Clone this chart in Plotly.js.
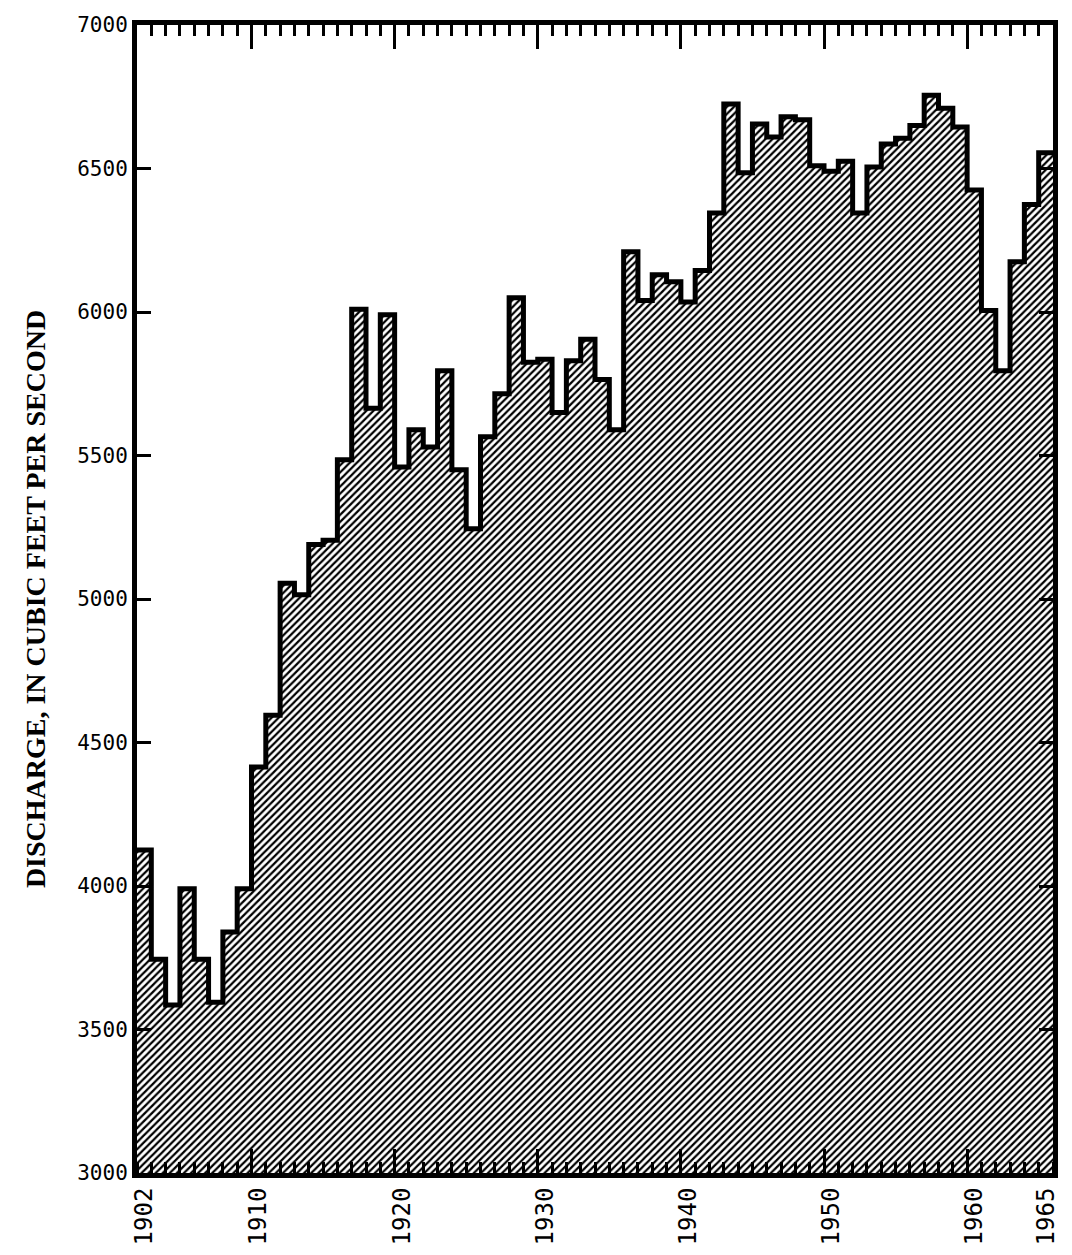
<!DOCTYPE html>
<html>
<head>
<meta charset="utf-8">
<script src="https://cdn.plot.ly/plotly-3.0.1.min.js"></script>
<style>html,body{margin:0;padding:0;background:#fff;}#chart{width:1072px;height:1255px;}</style>
</head>
<body>
<div id="chart"></div>
<script>
// Annual discharge, cubic feet per second
const years = [1902,1903,1904,1905,1906,1907,1908,1909,1910,1911,1912,1913,1914,1915,1916,1917,
  1918,1919,1920,1921,1922,1923,1924,1925,1926,1927,1928,1929,1930,1931,1932,1933,
  1934,1935,1936,1937,1938,1939,1940,1941,1942,1943,1944,1945,1946,1947,1948,1949,
  1950,1951,1952,1953,1954,1955,1956,1957,1958,1959,1960,1961,1962,1963,1964,1965];
const discharge = [4125,3745,3585,3990,3745,3595,3840,3990,4415,4595,5055,5015,5190,5205,5485,6010,
  5665,5990,5460,5590,5530,5795,5450,5245,5565,5715,6050,5825,5835,5650,5830,5905,
  5765,5590,6210,6040,6130,6105,6035,6145,6345,6725,6485,6655,6610,6680,6670,6510,
  6490,6525,6345,6505,6585,6605,6650,6755,6710,6645,6425,6005,5795,6175,6375,6555];
const xTickYears = [1902,1910,1920,1930,1940,1950,1960,1965];
const decadeYears = [1910,1920,1930,1940,1950,1960];
const yTicks = [3000,3500,4000,4500,5000,5500,6000,6500,7000];

// step outline: each year occupies [year-0.5, year+0.5]
const stepX = years.map(y => y - 0.5).concat([years[years.length-1] + 0.5]);
const stepY = discharge.concat([discharge[discharge.length-1]]);
const xRange = [years[0] - 0.5, years[years.length-1] + 0.5];

const traces = [{
  type: 'scatter', mode: 'lines', x: stepX, y: stepY,
  line: {shape: 'hv', color: '#000', width: 5},
  fill: 'tozeroy', fillcolor: '#fff',
  fillpattern: {shape: '/', size: 5, solidity: 0.45, fgcolor: '#000', bgcolor: '#fff'},
  hoverinfo: 'x+y', showlegend: false
}, {
  type: 'scatter', mode: 'lines', x: [], y: [], xaxis: 'x2', yaxis: 'y', showlegend: false
}, {
  type: 'scatter', mode: 'lines', x: [], y: [], xaxis: 'x3', yaxis: 'y', showlegend: false
}];

const layout = {
  width: 1072, height: 1255,
  margin: {l: 137, r: 19, t: 25, b: 82},
  paper_bgcolor: '#fff', plot_bgcolor: '#fff',
  showlegend: false,
  xaxis: {
    range: xRange, tickmode: 'array', tickvals: xTickYears, ticktext: xTickYears.map(String),
    ticks: '', tickangle: -90,
    tickfont: {family: 'DejaVu Sans Mono', size: 24, color: '#000'},
    showline: true, linecolor: '#000', linewidth: 5, mirror: true,
    showgrid: false, zeroline: false,
    minor: {tickmode: 'array', tickvals: stepX, ticks: 'inside', ticklen: 11, tickwidth: 3, tickcolor: '#000', showgrid: false}
  },
  xaxis2: {
    overlaying: 'x', anchor: 'y', side: 'bottom', range: xRange,
    tickmode: 'array', tickvals: decadeYears.map(y => y - 0.5),
    ticks: 'inside', ticklen: 24, tickwidth: 3, tickcolor: '#000',
    showticklabels: false, showline: false, showgrid: false, zeroline: false, mirror: 'ticks'
  },
  xaxis3: {
    overlaying: 'x', anchor: 'y', side: 'top', range: xRange,
    tickmode: 'array', tickvals: stepX,
    ticks: 'inside', ticklen: 11, tickwidth: 3, tickcolor: '#000',
    showticklabels: false, showline: false, showgrid: false, zeroline: false
  },
  yaxis: {
    range: [3000, 7000], tickmode: 'array', tickvals: yTicks,
    ticks: 'inside', ticklen: 14, tickwidth: 3, tickcolor: '#000',
    tickfont: {family: 'DejaVu Sans Mono', size: 21, color: '#000'},
    showline: true, linecolor: '#000', linewidth: 5, mirror: 'ticks',
    showgrid: false, zeroline: false,
    title: {text: 'DISCHARGE, IN CUBIC FEET PER SECOND', standoff: 25,
      font: {family: 'Liberation Serif', size: 28, color: '#000', weight: 'bold'}}
  }
};

Plotly.newPlot('chart', traces, layout, {staticPlot: true, displayModeBar: false});
</script>
</body>
</html>
